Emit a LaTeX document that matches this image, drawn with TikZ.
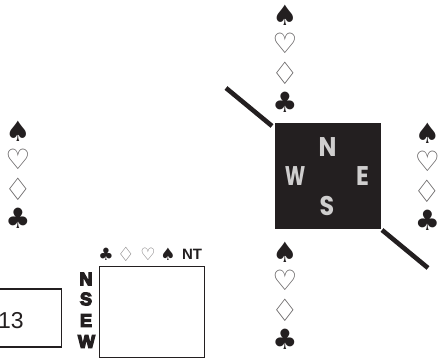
\documentclass[tikz,border=0pt]{standalone}
\usepackage{fontspec}
\setmainfont{Liberation Sans}
\newfontfamily\suitfont{DejaVu Sans}
\newfontfamily\compassfont{Poppins}
\newfontfamily\heavyfont[FakeBold=7]{Liberation Sans Bold}
\definecolor{ink}{HTML}{231F20}
\tikzset{
  suit/.style={inner sep=0pt,text=ink,font=\suitfont\fontsize{28}{28}\selectfont},
  lightsuit/.style={suit,text=ink!75},
  lightdiamond/.style={lightsuit,transform shape,xscale=1.1,yscale=1.1},
  smallsuit/.style={inner sep=0pt,text=ink,font=\suitfont\fontsize{17}{17}\selectfont},
  smalllight/.style={smallsuit,text=ink!65},
  smalldiamond/.style={smalllight,transform shape,xscale=1.15,yscale=1.15},
  compass/.style={inner sep=0pt,text=ink!22,transform shape,xscale=.88,font=\compassfont\bfseries\fontsize{27}{27}\selectfont},
  pane/.style={draw=ink,line width=1.1pt,fill=white},
  stub/.style={draw=ink,line width=4.6pt},
  heavy/.style={inner sep=0pt,text=ink,font=\heavyfont\fontsize{18}{18}\selectfont},
}
\newcommand{\suitcol}[3]{%
  \node[suit] (#3s) at (#1,#2) {♠};
  \node[lightsuit] (#3h) at (#1,#2+28.5) {♡};
  \node[lightdiamond] (#3d) at (#1,#2+58) {♢};
  \node[suit] (#3c) at (#1,#2+87) {♣};
}
\begin{document}
\begin{tikzpicture}[x=1pt,y=-1pt]
\useasboundingbox (0,0) rectangle (438,363);
\suitcol{285}{15}{t}
\suitcol{18}{131}{l}
\suitcol{427.5}{133}{r}
\suitcol{285}{252}{b}
\node[fill=ink,minimum size=106pt,inner sep=0pt,outer sep=0pt] (sq) at (328,176) {};
\node[compass] (n) at (327.5,147) {N};
\node[compass,xscale=.82] (w) at (295,176.5) {W};
\node[compass] (e) at (362.5,176.5) {E};
\node[compass] (s) at (327,206) {S};
\coordinate (a) at (226,88);
\coordinate (a2) at (272,126);
\coordinate (c) at (382,230);
\coordinate (c2) at (428,268);
\draw[stub] (a) -- (a2);
\draw[stub] (c) -- (c2);
\node[draw=ink,line width=1.5pt,minimum width=66pt,minimum height=58pt,inner sep=0pt,anchor=north east] (tricks) at (62,288) {};
\node[inner sep=0pt,text=ink,font=\fontsize{23}{23}\selectfont] (num) at (11,321) {13};
\node[pane,minimum width=105pt,minimum height=91pt,inner sep=0pt,anchor=north west] (grid) at (99,266) {};
\node[smallsuit] (hc) at (106,254) {♣};
\node[smalldiamond] (hd) at (126,254) {♢};
\node[smalllight] (hh) at (148,254) {♡};
\node[smallsuit] (hs) at (168,254) {♠};
\node[inner sep=0pt,text=ink,font=\bfseries\fontsize{15}{15}\selectfont] (nt) at (192,254) {NT};
\node[heavy] (gn) at (86,279) {N};
\node[heavy] (gs) at (86,299) {S};
\node[heavy] (ge) at (86,320.5) {E};
\node[heavy] (gw) at (86.5,341.5) {W};
\end{tikzpicture}
\end{document}
